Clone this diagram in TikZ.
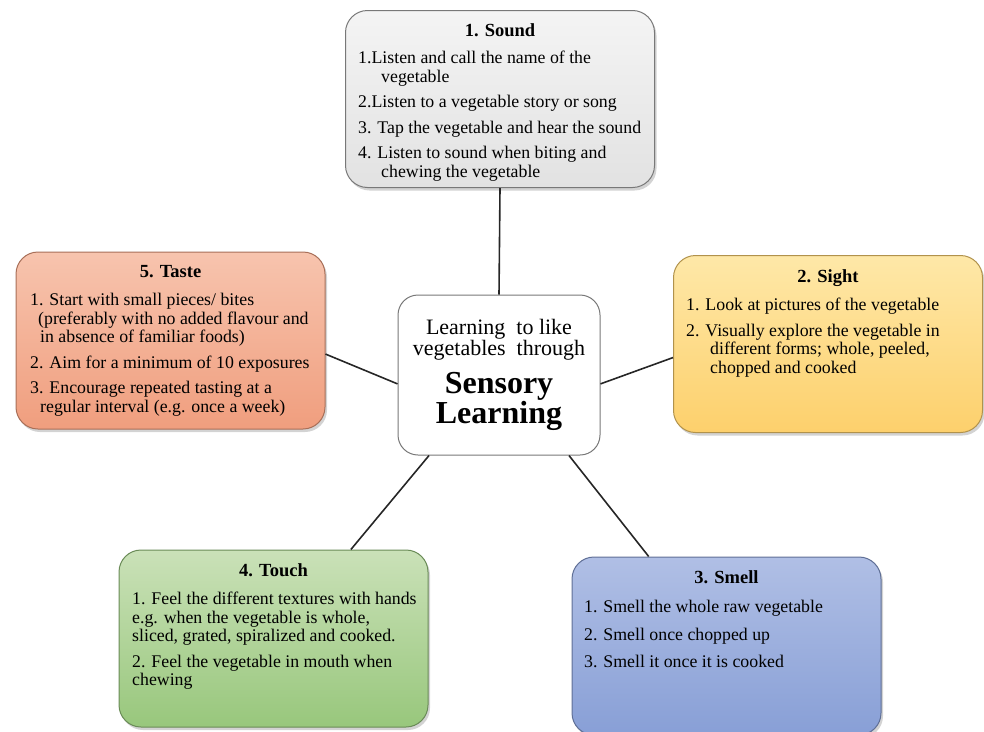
\documentclass[tikz,border=0pt]{standalone}
\usepackage{fontspec}
\setmainfont{Liberation Serif}
\usetikzlibrary{positioning,shadows}
\definecolor{soundtop}{RGB}{244,244,244}
\definecolor{soundbot}{RGB}{226,226,226}
\definecolor{tastetop}{RGB}{247,196,174}
\definecolor{tastebot}{RGB}{240,158,126}
\definecolor{sighttop}{RGB}{254,232,168}
\definecolor{sightbot}{RGB}{253,208,108}
\definecolor{touchtop}{RGB}{202,225,184}
\definecolor{touchbot}{RGB}{152,199,124}
\definecolor{smelltop}{RGB}{176,191,229}
\definecolor{smellbot}{RGB}{136,159,214}
\definecolor{edgegray}{RGB}{120,120,120}

\tikzset{
  sensebox/.style={draw=edgegray, line width=1pt, rounded corners=22pt, minimum width=309pt, minimum height=177pt,
    drop shadow={shadow xshift=2pt, shadow yshift=-3pt, opacity=0.35}},
  titletxt/.style={font=\fontsize{18.5}{20}\selectfont\bfseries, inner sep=0pt},
  itemtxt/.style={font=\fontsize{17.8}{18.5}\selectfont, align=left, inner sep=0pt, anchor=north west},
  link/.style={line width=1.6pt, black!85}
}

\begin{document}
\begin{tikzpicture}[x=1pt, y=-1pt]
  \useasboundingbox (0,0) rectangle (984,731);

  % Centre box
  \node[draw=edgegray, fill=white, line width=1pt, rounded corners=20pt, minimum width=202pt, minimum height=160pt, align=center] (hub) at (499,375)
    {\fontsize{22}{23}\selectfont Learning\ \ to like\\ \fontsize{22}{23}\selectfont vegetables\ \ through\\[11pt]
     \fontsize{32}{35}\selectfont\bfseries Sensory\\ \fontsize{32}{35}\selectfont\bfseries Learning};

  % Sense boxes
  \node[sensebox, top color=soundtop, bottom color=soundbot] (sound) at (500,99) {};
  \node[sensebox, top color=tastetop, bottom color=tastebot, draw=tastebot!70!black] (taste) at (170.5,340.5) {};
  \node[sensebox, top color=sighttop, bottom color=sightbot, draw=sightbot!70!black] (sight) at (828,344) {};
  \node[sensebox, top color=touchtop, bottom color=touchbot, draw=touchbot!70!black] (touch) at (273.5,638.5) {};
  \node[sensebox, top color=smelltop, bottom color=smellbot, draw=smellbot!70!black, minimum height=178pt] (smell) at (726.5,646) {};

  % Titles
  \node[titletxt, below=13pt of sound.north] (soundtitle) {1. Sound};
  \node[titletxt, below=14pt of taste.north] (tastetitle) {5. Taste};
  \node[titletxt, below=14pt of sight.north] (sighttitle) {2. Sight};
  \node[titletxt, below=14pt of touch.north] (touchtitle) {4. Touch};
  \node[titletxt, below=14pt of smell.north] (smelltitle) {3. Smell};

  % Lists
  \node[itemtxt] (soundlist) at (358,51) {1.Listen and call the name of the\\ \hspace*{23pt}vegetable\\[7pt]
    2.Listen to a vegetable story or song\\[7pt]
    3. Tap the vegetable and hear the sound\\[7pt]
    4. Listen to sound when biting and\\ \hspace*{23pt}chewing the vegetable};
  \node[itemtxt] (tastelist) at (30,293) {1. Start with small pieces/ bites\\ \hspace*{8pt}(preferably with no added flavour and\\ \hspace*{10pt}in absence of familiar foods)\\[7pt]
    2. Aim for a minimum of 10 exposures\\[7pt]
    3. Encourage repeated tasting at a\\ \hspace*{10pt}regular interval (e.g. once a week)};
  \node[itemtxt] (sightlist) at (686,298) {1. Look at pictures of the vegetable\\[7pt]
    2. Visually explore the vegetable in\\ \hspace*{24pt}different forms; whole, peeled,\\ \hspace*{24pt}chopped and cooked};
  \node[itemtxt] (touchlist) at (132,592) {1. Feel the different textures with hands\\ e.g. when the vegetable is whole,\\ sliced, grated, spiralized and cooked.\\[7pt]
    2. Feel the vegetable in mouth when\\ chewing};
  \node[itemtxt] (smelllist) at (584,600) {1. Smell the whole raw vegetable\\[9pt]
    2. Smell once chopped up\\[9pt]
    3. Smell it once it is cooked};

  % Connectors
  \draw[link] (sound.south) -- (hub.north);
  \draw[link] (taste.-5.7) -- (hub.185.1);
  \draw[link] (hub.-5.1) -- (sight.185.9);
  \draw[link] (hub.229.2) -- (touch.49.2);
  \draw[link] (hub.-49.2) -- (smell.131);
\end{tikzpicture}
\end{document}
